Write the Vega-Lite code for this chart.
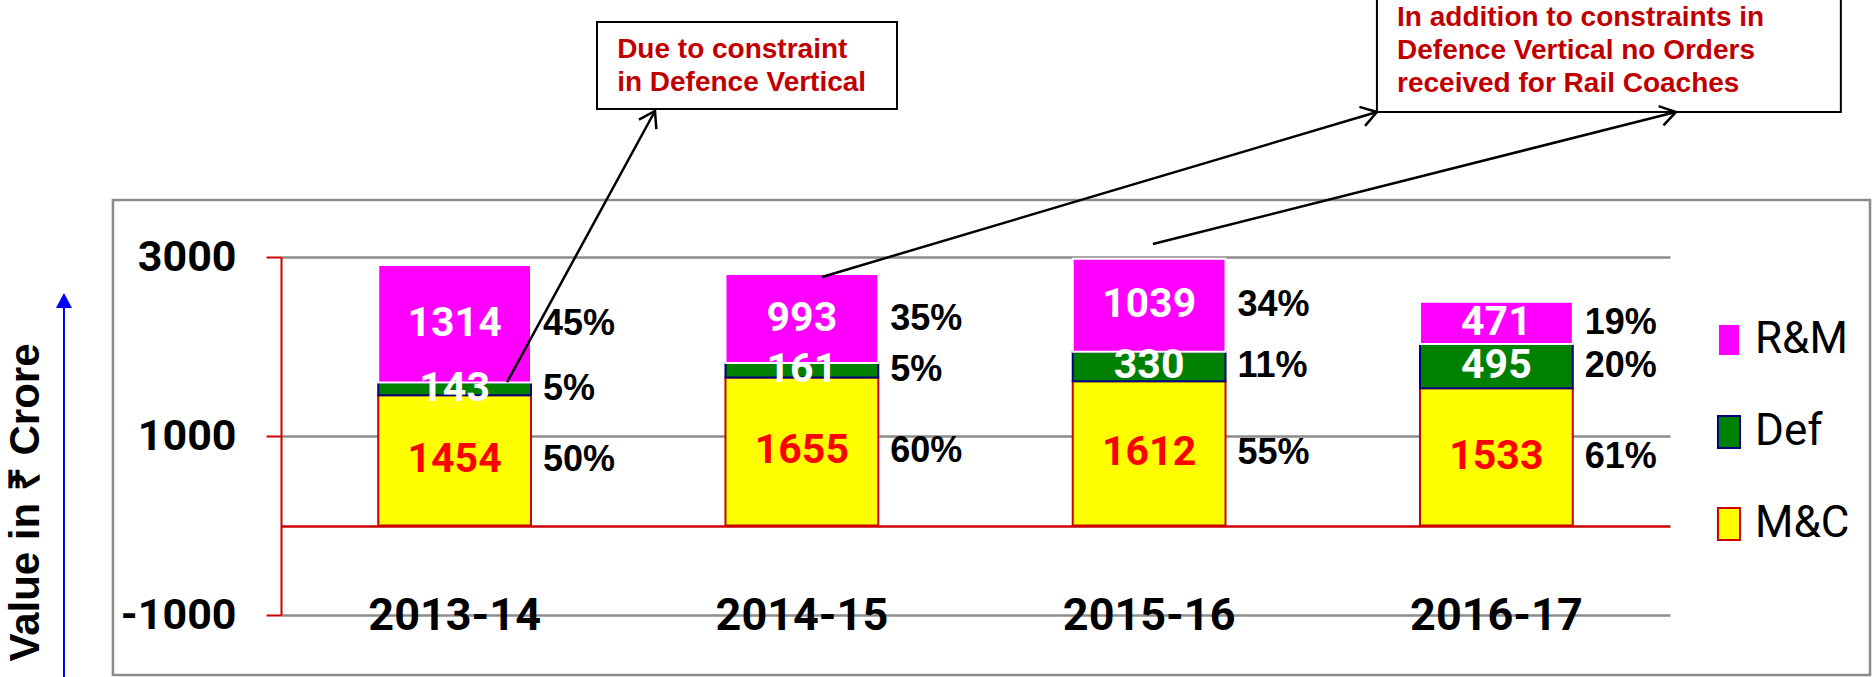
{
  "$schema": "https://vega.github.io/schema/vega-lite/v6.json",
  "width": 1389,
  "height": 358,
  "autosize": {"type": "none"},
  "padding": {"left": 281, "top": 257, "right": 204, "bottom": 62},
  "background": "white",
  "config": {"view": {"stroke": null}},
  "datasets": {
    "main": [
      {"Year": "2013-14", "Segment": "M&C", "Value": 1454, "Share": 0.50},
      {"Year": "2013-14", "Segment": "Def", "Value": 143, "Share": 0.05},
      {"Year": "2013-14", "Segment": "R&M", "Value": 1314, "Share": 0.45},
      {"Year": "2014-15", "Segment": "M&C", "Value": 1655, "Share": 0.60},
      {"Year": "2014-15", "Segment": "Def", "Value": 161, "Share": 0.05},
      {"Year": "2014-15", "Segment": "R&M", "Value": 993, "Share": 0.35},
      {"Year": "2015-16", "Segment": "M&C", "Value": 1612, "Share": 0.55},
      {"Year": "2015-16", "Segment": "Def", "Value": 330, "Share": 0.11},
      {"Year": "2015-16", "Segment": "R&M", "Value": 1039, "Share": 0.34},
      {"Year": "2016-17", "Segment": "M&C", "Value": 1533, "Share": 0.61},
      {"Year": "2016-17", "Segment": "Def", "Value": 495, "Share": 0.20},
      {"Year": "2016-17", "Segment": "R&M", "Value": 471, "Share": 0.19}
    ],
    "frame": [{"x1": -0.484, "x2": 4.576, "y1": 3637, "y2": -1670}],
    "boxes": [
      {"x1": 0.910, "x2": 1.774, "y1": 5626, "y2": 4654},
      {"x1": 3.156, "x2": 4.492, "y1": 5894, "y2": 4620}
    ],
    "notes": [
      {"tx": 0.968, "ty": 5314, "note": "Due to constraint\nin Defence Vertical"},
      {"tx": 3.214, "ty": 5670, "note": "In addition to constraints in\nDefence Vertical no Orders\nreceived for Rail Coaches"}
    ],
    "arrows": [
      {"x1": 0.651, "y1": 1603, "x2": 1.077, "y2": 4631, "ang": 28.6},
      {"x1": 1.558, "y1": 2777, "x2": 3.156, "y2": 4620, "ang": 73.4},
      {"x1": 2.511, "y1": 3145, "x2": 4.017, "y2": 4620, "ang": 75.8}
    ],
    "yarrow": [{"x": -0.625, "y1": -1693, "y2": 2430, "hy": 2514}]
  },
  "resolve": {"scale": {"x": "independent"}},
  "layer": [
    {
      "data": {"name": "frame"},
      "mark": {"type": "rect", "filled": false, "stroke": "#8C8C8C", "strokeWidth": 2.5},
      "encoding": {
        "x": {"field": "x1", "type": "quantitative", "scale": {"domain": [0, 4], "nice": false, "zero": false}, "axis": null},
        "x2": {"field": "x2"},
        "y": {"field": "y1", "type": "quantitative", "scale": {"domain": [-1000, 3000], "nice": false, "zero": false}},
        "y2": {"field": "y2"}
      }
    },
    {
      "data": {"name": "main"},
      "transform": [{"stack": "Value", "groupby": ["Year"], "as": ["v0", "v1"]}],
      "layer": [
        {
          "mark": {"type": "bar", "strokeWidth": 2},
          "encoding": {
            "x": {
              "field": "Year", "type": "nominal",
              "scale": {"paddingInner": 0.56, "paddingOuter": 0.28},
              "axis": {
                "title": null, "domain": false, "ticks": false, "grid": false,
                "labelFont": "Roboto", "labelFontWeight": "bold", "labelFontSize": 45,
                "labelColor": "#000000", "labelLimit": 0,
                "labelPadding": 0, "labelBaseline": "middle", "labelAngle": 0
              }
            },
            "y": {
              "field": "v1", "type": "quantitative",
              "scale": {"domain": [-1000, 3000], "nice": false, "zero": false},
              "axis": {
                "values": [-1000, 0, 1000, 3000],
                "title": "Value in ₹ Crore",
                "titleFont": "Liberation Sans, Arial, sans-serif", "titleFontWeight": "bold",
                "titleFontSize": 42, "titleColor": "#000000", "titleAngle": -90,
                "titleX": -256, "titleY": 245, "titleAlign": "center", "titleBaseline": "middle",
                "labelFont": "Roboto", "labelFontWeight": "bold", "labelFontSize": 43,
                "labelColor": "#000000", "labelLimit": 0,
                "labelPadding": 30,
                "labelExpr": "datum.value === 0 ? '' : '' + datum.value",
                "tickSize": 15, "tickWidth": 2, "tickColor": "#CC0000",
                "tickOpacity": {"condition": {"test": "datum.value === 0", "value": 0}, "value": 1},
                "domainColor": "#CC0000", "domainWidth": 2,
                "grid": true, "gridWidth": 2.5, "gridOpacity": 1,
                "gridColor": {"condition": {"test": "datum.value === 0", "value": "#CC0000"}, "value": "#8C8C8C"}
              }
            },
            "y2": {"field": "v0"},
            "color": {
              "field": "Segment", "type": "nominal",
              "scale": {"domain": ["R&M", "Def", "M&C"], "range": ["#FF00FF", "#008000", "#FFFF00"]},
              "legend": {
                "title": null, "orient": "none", "legendX": 1426, "legendY": 61, "padding": 0,
                "values": ["R&M", "Def", "M&C"],
                "symbolType": "M-0.69,-1H0.69V1H-0.69Z", "symbolSize": 1024, "symbolStrokeWidth": 2,
                "labelFont": "Roboto", "labelFontSize": 44, "labelColor": "#000000", "labelOffset": 4, "rowPadding": 48
              }
            },
            "stroke": {
              "field": "Segment", "type": "nominal",
              "scale": {"domain": ["R&M", "Def", "M&C"], "range": ["#FFFFFF", "#000080", "#CC0000"]},
              "legend": {
                "title": null, "orient": "none", "legendX": 1426, "legendY": 61, "padding": 0,
                "values": ["R&M", "Def", "M&C"],
                "symbolType": "M-0.69,-1H0.69V1H-0.69Z", "symbolSize": 1024, "symbolStrokeWidth": 2,
                "labelFont": "Roboto", "labelFontSize": 44, "labelColor": "#000000", "labelOffset": 4, "rowPadding": 48
              }
            }
          }
        },
        {
          "transform": [
            {"fold": ["v0", "v1"], "as": ["k", "p"]},
            {"aggregate": [{"op": "mean", "field": "p", "as": "mid"}], "groupby": ["Year", "Segment", "Value", "Share"]}
          ],
          "mark": {"type": "text", "font": "Roboto", "fontWeight": "bold", "fontSize": 41, "baseline": "middle", "align": "center"},
          "encoding": {
            "x": {"field": "Year", "type": "nominal"},
            "y": {"field": "mid", "type": "quantitative", "scale": {"domain": [-1000, 3000], "nice": false, "zero": false}},
            "text": {"field": "Value", "type": "quantitative", "format": "d"},
            "color": {"condition": {"test": "datum.Segment === 'M&C'", "value": "#FF0000"}, "value": "#FFFFFF"}
          }
        },
        {
          "transform": [
            {"fold": ["v0", "v1"], "as": ["k", "p"]},
            {"aggregate": [{"op": "mean", "field": "p", "as": "mid"}], "groupby": ["Year", "Segment", "Value", "Share"]}
          ],
          "mark": {"type": "text", "font": "Liberation Sans, Arial, sans-serif", "fontWeight": "bold", "fontSize": 36, "baseline": "middle", "align": "left", "dx": 12, "color": "#000000"},
          "encoding": {
            "x": {"field": "Year", "type": "nominal", "bandPosition": 1},
            "y": {"field": "mid", "type": "quantitative", "scale": {"domain": [-1000, 3000], "nice": false, "zero": false}},
            "text": {"field": "Share", "type": "quantitative", "format": ".0%"}
          }
        }
      ]
    },
    {
      "layer": [
        {
          "data": {"name": "boxes"},
          "mark": {"type": "rect", "fill": "#FFFFFF", "stroke": "#000000", "strokeWidth": 2},
          "encoding": {
            "x": {"field": "x1", "type": "quantitative", "scale": {"domain": [0, 4], "nice": false, "zero": false}, "axis": null},
            "x2": {"field": "x2"},
            "y": {"field": "y1", "type": "quantitative", "scale": {"domain": [-1000, 3000], "nice": false, "zero": false}},
            "y2": {"field": "y2"}
          }
        },
        {
          "data": {"name": "notes"},
          "mark": {"type": "text", "font": "Liberation Sans, Arial, sans-serif", "fontWeight": "bold", "fontSize": 28, "color": "#C00000", "align": "left", "baseline": "middle", "lineBreak": "\n", "lineHeight": 33},
          "encoding": {
            "x": {"field": "tx", "type": "quantitative", "scale": {"domain": [0, 4], "nice": false, "zero": false}, "axis": null},
            "y": {"field": "ty", "type": "quantitative", "scale": {"domain": [-1000, 3000], "nice": false, "zero": false}},
            "text": {"field": "note", "type": "nominal"}
          }
        },
        {
          "data": {"name": "arrows"},
          "mark": {"type": "rule", "color": "#000000", "strokeWidth": 2.5},
          "encoding": {
            "x": {"field": "x1", "type": "quantitative", "scale": {"domain": [0, 4], "nice": false, "zero": false}, "axis": null},
            "x2": {"field": "x2"},
            "y": {"field": "y1", "type": "quantitative", "scale": {"domain": [-1000, 3000], "nice": false, "zero": false}},
            "y2": {"field": "y2"}
          }
        },
        {
          "data": {"name": "arrows"},
          "mark": {"type": "point", "shape": "M-0.55,0.85L0,0L0.55,0.85", "filled": false, "color": "#000000", "strokeWidth": 2.5, "size": 1296, "opacity": 1},
          "encoding": {
            "x": {"field": "x2", "type": "quantitative", "scale": {"domain": [0, 4], "nice": false, "zero": false}, "axis": null},
            "y": {"field": "y2", "type": "quantitative", "scale": {"domain": [-1000, 3000], "nice": false, "zero": false}},
            "angle": {"field": "ang", "type": "quantitative", "scale": null}
          }
        },
        {
          "data": {"name": "yarrow"},
          "mark": {"type": "rule", "color": "#0000FF", "strokeWidth": 2},
          "encoding": {
            "x": {"field": "x", "type": "quantitative", "scale": {"domain": [0, 4], "nice": false, "zero": false}, "axis": null},
            "y": {"field": "y1", "type": "quantitative", "scale": {"domain": [-1000, 3000], "nice": false, "zero": false}},
            "y2": {"field": "y2"}
          }
        },
        {
          "data": {"name": "yarrow"},
          "mark": {"type": "point", "shape": "M0,-1L1.07,1L-1.07,1Z", "filled": true, "color": "#0000FF", "size": 225, "opacity": 1},
          "encoding": {
            "x": {"field": "x", "type": "quantitative", "scale": {"domain": [0, 4], "nice": false, "zero": false}, "axis": null},
            "y": {"field": "hy", "type": "quantitative", "scale": {"domain": [-1000, 3000], "nice": false, "zero": false}}
          }
        }
      ]
    }
  ]
}
